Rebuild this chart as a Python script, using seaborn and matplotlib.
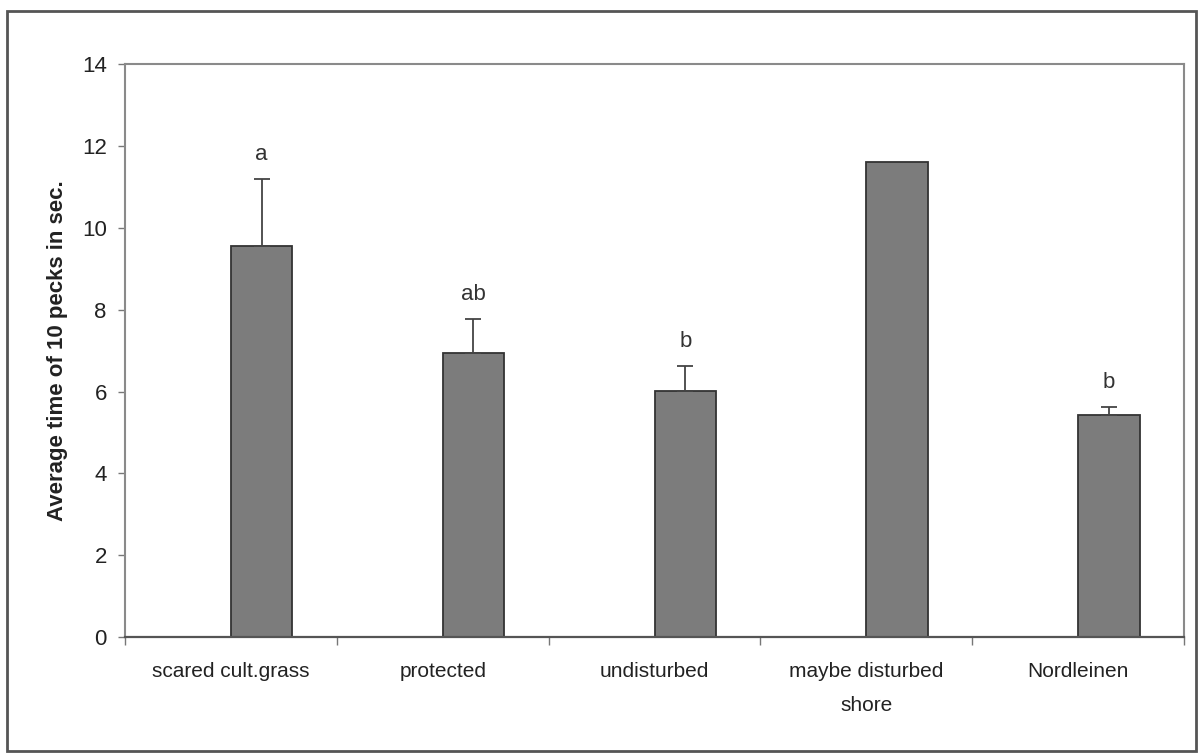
import numpy as np
import pandas as pd
import seaborn as sns
import matplotlib.pyplot as plt
from matplotlib.patches import Rectangle

# values
sites = ['scared cult.grass', 'protected', 'undisturbed', 'maybe disturbed\nshore', 'Nordleinen']
mean_time = [9.55, 6.95, 6.02, 11.6, 5.42]
err_upper = [1.65, 0.83, 0.6, np.nan, 0.2]
letters = ['a', 'ab', 'b', '', 'b']

sns.set_style('white')
plt.rcParams['font.family'] = ['Liberation Sans', 'DejaVu Sans']

df = pd.DataFrame({'site': sites, 'time': mean_time})

fig = plt.figure(figsize=(12.01, 7.54), dpi=100)
ax = fig.add_axes([0.104, 0.155, 0.882, 0.76])

bar_w = 0.29
sns.barplot(data=df, x='site', y='time', order=sites, width=bar_w,
            color='#7c7c7c', saturation=1, edgecolor='#333333', linewidth=1.3,
            errorbar=None, ax=ax)

# Excel-style: bars sit just right of the category centre
for p in ax.patches:
    p.set_x(p.get_x() + p.get_width() / 2)

xpos = np.arange(len(sites)) + bar_w / 2
yerr = np.vstack([np.zeros(len(sites)), np.nan_to_num(err_upper)])
mask = ~np.isnan(err_upper)
ax.errorbar(xpos[mask], np.array(mean_time)[mask], yerr=yerr[:, mask], fmt='none',
            ecolor='#444444', elinewidth=1.3, capsize=6, capthick=1.3)

for x, m, e, lab in zip(xpos, mean_time, err_upper, letters):
    if lab:
        ax.text(x, m + e + 0.6, lab, ha='center', va='center', fontsize=16, color='#333333')

ax.set_ylim(0, 14)
ax.set_xlim(-0.5, len(sites) - 0.5)
ax.set_yticks(range(0, 15, 2))
ax.set_xticks(range(len(sites)))
ax.set_xticklabels(sites, fontsize=15, color='#222222', linespacing=2.0)
ax.set_xticks(np.arange(-0.5, len(sites), 1.0), minor=True)
ax.tick_params(axis='x', which='major', length=0, pad=18)
ax.tick_params(axis='x', which='minor', length=6, width=1, color='#777777', direction='out')
ax.tick_params(axis='y', length=5, width=1, color='#777777', direction='out',
               labelsize=16, labelcolor='#222222', pad=8)
ax.tick_params(bottom=True, left=True, which='both')

ax.set_xlabel('')
ax.set_ylabel('Average time of 10 pecks in sec.', fontsize=16, fontweight='bold',
              color='#222222', labelpad=10)

for side in ['top', 'right', 'left']:
    ax.spines[side].set_color('#8a8a8a')
    ax.spines[side].set_linewidth(1.5)
ax.spines['bottom'].set_color('#555555')
ax.spines['bottom'].set_linewidth(1.6)

# outer chart frame
fig.patches.append(Rectangle((0.006, 0.004), 0.99, 0.982, transform=fig.transFigure,
                             fill=False, edgecolor='#555555', linewidth=2))

fig.savefig('out.png', dpi=100)
